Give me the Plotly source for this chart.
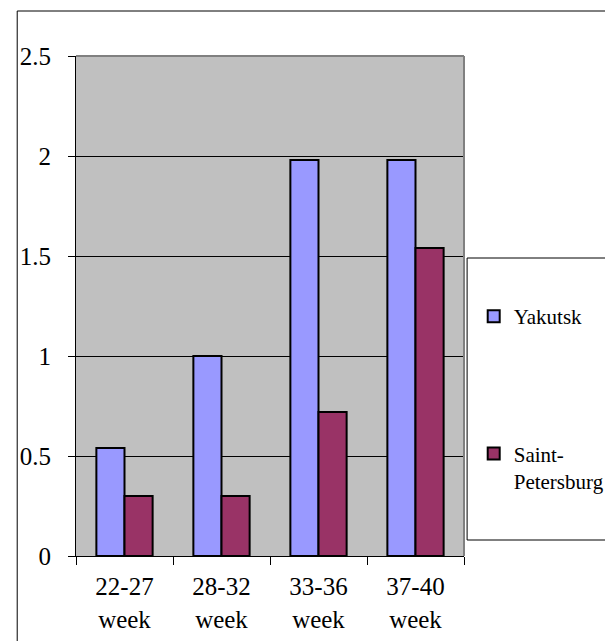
import plotly.graph_objects as go

categories = ["22-27<br>week", "28-32<br>week", "33-36<br>week", "37-40<br>week"]
yakutsk = [0.54, 1.0, 1.98, 1.98]
spb = [0.30, 0.30, 0.72, 1.54]
series_names = ["Yakutsk", "Saint-<br>Petersburg"]
y_ticks = [0, 0.5, 1, 1.5, 2, 2.5]
y_ticktext = ["0", "0.5", "1", "1.5", "2", "2.5"]

FONT = "Times New Roman, Liberation Serif, DejaVu Serif, serif"

fig = go.Figure()
fig.add_trace(go.Bar(x=categories, y=yakutsk, name=series_names[0], legendgroup="a",
                     marker=dict(color="#9999FF", line=dict(color="black", width=2))))
fig.add_trace(go.Bar(x=categories, y=spb, name=series_names[1], legendgroup="b",
                     marker=dict(color="#993366", line=dict(color="black", width=2))))

fig.update_layout(
    width=613, height=641,
    margin=dict(l=61, r=153, t=48, b=93),
    paper_bgcolor="white",
    plot_bgcolor="#C0C0C0",
    barmode="group", bargap=0.42, bargroupgap=0,
    font=dict(family=FONT, size=25, color="black"),
    showlegend=True,
    legend=dict(x=1.025, y=0.52, xanchor="left", yanchor="top",
                font=dict(family=FONT, size=21, color="black"),
                bgcolor="rgba(0,0,0,0)", borderwidth=0,
                tracegroupgap=107, valign="top", traceorder="grouped"),
    xaxis=dict(showline=True, linecolor="black", linewidth=1, mirror=False,
               ticks="outside", tickson="boundaries", ticklen=8, tickcolor="black",
               showgrid=False, tickfont=dict(family=FONT, size=25, color="black"),
               ticklabelstandoff=8),
    yaxis=dict(range=[0, 2.5], tickvals=y_ticks, ticktext=y_ticktext,
               showline=True, linecolor="black", linewidth=1,
               ticks="outside", ticklen=7, tickcolor="black",
               showgrid=True, gridcolor="black", gridwidth=1, zeroline=False,
               tickfont=dict(family=FONT, size=25, color="black"),
               ticklabelstandoff=12),
    shapes=[
        dict(type="line", xref="paper", yref="paper", x0=0, x1=1, y0=1, y1=1,
             line=dict(color="#808080", width=2)),
        dict(type="line", xref="paper", yref="paper", x0=1, x1=1, y0=0, y1=1,
             line=dict(color="#808080", width=2)),
        dict(type="rect", xref="paper", yref="paper", x0=1.008, x1=1.5,
             y0=(556 - 540) / 500, y1=(556 - 258) / 500,
             line=dict(color="black", width=1), fillcolor="white", layer="below"),
        dict(type="rect", xref="paper", yref="paper", x0=(12 - 72) / 396, x1=2,
             y0=-1, y1=(556 - 11) / 500,
             line=dict(color="black", width=1), fillcolor="rgba(0,0,0,0)", layer="below"),
    ],
)

fig.write_html("out.html")
